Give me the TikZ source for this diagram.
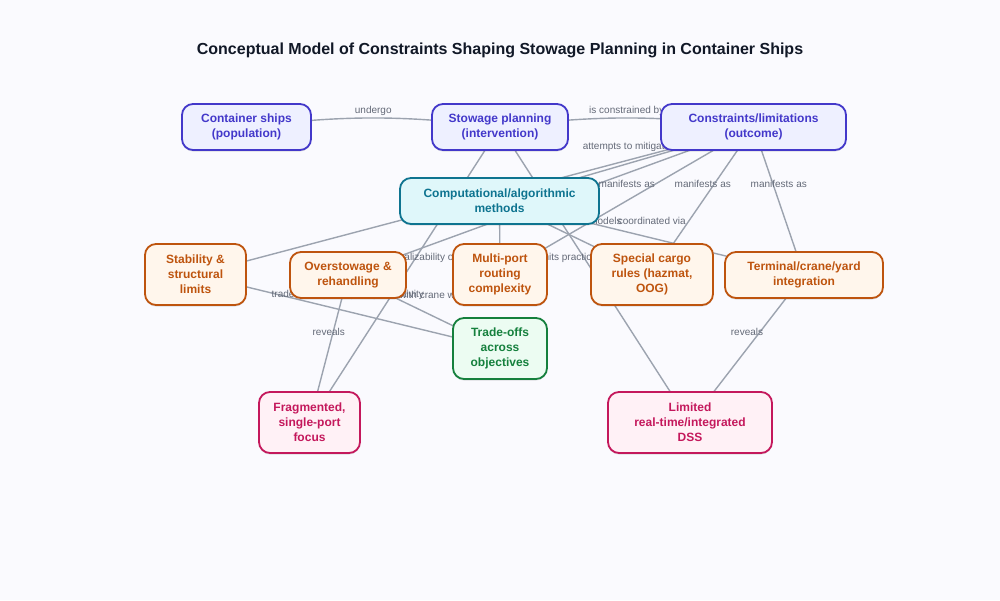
\documentclass[tikz,border=0pt]{standalone}
\usepackage{fontspec}
\setmainfont{Liberation Sans}
\usetikzlibrary{shadows}
\pgfdeclarelayer{canvas}
\pgfdeclarelayer{background}
\pgfsetlayers{canvas,background,main}
\definecolor{bgc}{RGB}{250,250,254}
\definecolor{cblue}{RGB}{67,56,202}
\definecolor{cbluef}{RGB}{238,240,255}
\definecolor{ccyan}{RGB}{14,116,144}
\definecolor{ccyanf}{RGB}{223,247,250}
\definecolor{corange}{RGB}{190,84,14}
\definecolor{corangef}{RGB}{255,246,236}
\definecolor{cgreen}{RGB}{21,128,61}
\definecolor{cgreenf}{RGB}{236,252,242}
\definecolor{cpink}{RGB}{196,24,92}
\definecolor{cpinkf}{RGB}{255,241,246}
\definecolor{cedge}{RGB}{156,163,175}
\definecolor{clab}{RGB}{100,106,120}
\definecolor{ctitle}{RGB}{17,24,39}
\begin{document}
\begin{tikzpicture}[x=1pt,y=-1pt,
  box/.style={rounded corners=11pt, line width=1.8pt, align=center, inner sep=2pt,
    font=\fontsize{12}{15}\selectfont\bfseries,
    drop shadow={shadow xshift=0pt, shadow yshift=-1.5pt, opacity=0.12, fill=black}},
  bluebox/.style={box, draw=cblue, fill=cbluef, text=cblue},
  cyanbox/.style={box, draw=ccyan, fill=ccyanf, text=ccyan},
  orangebox/.style={box, draw=corange, fill=corangef, text=corange},
  greenbox/.style={box, draw=cgreen, fill=cgreenf, text=cgreen},
  pinkbox/.style={box, draw=cpink, fill=cpinkf, text=cpink},
  link/.style={draw=cedge, line width=1.4pt},
  lab/.style={font=\fontsize{10}{12}\selectfont, text=clab, inner sep=0pt}]
\begin{pgfonlayer}{canvas}
\fill[bgc] (0,0) rectangle (1000,600);
\end{pgfonlayer}
\useasboundingbox (0,0) rectangle (1000,600);

\node[font=\fontsize{16}{19}\selectfont\bfseries, text=ctitle] (title) at (500,50)
  {Conceptual Model of Constraints Shaping Stowage Planning in Container Ships};

\node[bluebox, minimum width=129pt, minimum height=46pt] (ships) at (246.5,127) {Container ships\\(population)};
\node[bluebox, minimum width=136pt, minimum height=46pt] (SP) at (500,127) {Stowage planning\\(intervention)};
\node[bluebox, minimum width=185pt, minimum height=46pt] (CL) at (753.5,127) {Constraints/limitations\\(outcome)};
\node[cyanbox, minimum width=199pt, minimum height=46pt] (CM) at (499.5,201) {Computational/algorithmic\\methods};
\node[orangebox, minimum width=101pt, minimum height=61pt] (Stab) at (195.5,274.5) {Stability \&\\structural\\limits};
\node[orangebox, minimum width=116pt, minimum height=46pt] (Over) at (348,275) {Overstowage \&\\rehandling};
\node[orangebox, minimum width=94pt, minimum height=61pt] (MP) at (500,274.5) {Multi-port\\routing\\complexity};
\node[orangebox, minimum width=122pt, minimum height=61pt] (Spec) at (652,274.5) {Special cargo\\rules (hazmat,\\OOG)};
\node[orangebox, minimum width=158pt, minimum height=46pt] (Term) at (804,275) {Terminal/crane/yard\\integration};
\node[greenbox, minimum width=94pt, minimum height=61pt] (Trade) at (500,348.5) {Trade-offs\\across\\objectives};
\node[pinkbox, minimum width=101pt, minimum height=61pt] (Frag) at (309.5,422.5) {Fragmented,\\single-port\\focus};
\node[pinkbox, minimum width=164pt, minimum height=61pt] (Lim) at (690,422.5) {Limited\\real-time/integrated\\DSS};

\begin{pgfonlayer}{background}
\draw[link] (ships.center) to[bend left=7] node[lab, midway, yshift=7pt] {undergo} (SP.center);
\draw[link] (SP.center) to[bend left=7] node[lab, midway, yshift=7pt] {is constrained by} (CL.center);
\draw[link] (CM.center) -- node[lab, midway, yshift=17pt] {attempts to mitigate} (CL.center);
\draw[link] (CL.center) -- (Stab.center);
\draw[link] (CL.center) -- (Over.center);
\draw[link] (CL.center) -- node[lab, midway, yshift=17pt] {manifests as} (MP.center);
\draw[link] (CL.center) -- node[lab, midway, yshift=17pt] {manifests as} (Spec.center);
\draw[link] (CL.center) -- node[lab, midway, yshift=17pt] {manifests as} (Term.center);
\draw[link] (CM.center) -- (MP.center);
\draw[link] (CM.center) -- node[lab, midway, yshift=17pt] {formalized in models} (Spec.center);
\draw[link] (CM.center) -- node[lab, midway, yshift=17pt] {coordinated via} (Term.center);
\draw[link] (SP.center) -- node[lab, midway, yshift=17pt] {limits generalizability of} (Frag.center);
\draw[link] (SP.center) -- node[lab, midway, yshift=17pt] {limits practical applicability} (Lim.center);
\draw[link] (Stab.center) -- node[lab, midway, yshift=17pt] {trades off against yard productivity} (Trade.center);
\draw[link] (Over.center) -- node[lab, midway, yshift=17pt] {conflicts with crane workload} (Trade.center);
\draw[link] (Over.center) -- node[lab, midway, yshift=17pt] {reveals} (Frag.center);
\draw[link] (Term.center) -- node[lab, midway, yshift=17pt] {reveals} (Lim.center);
\end{pgfonlayer}
\end{tikzpicture}
\end{document}
